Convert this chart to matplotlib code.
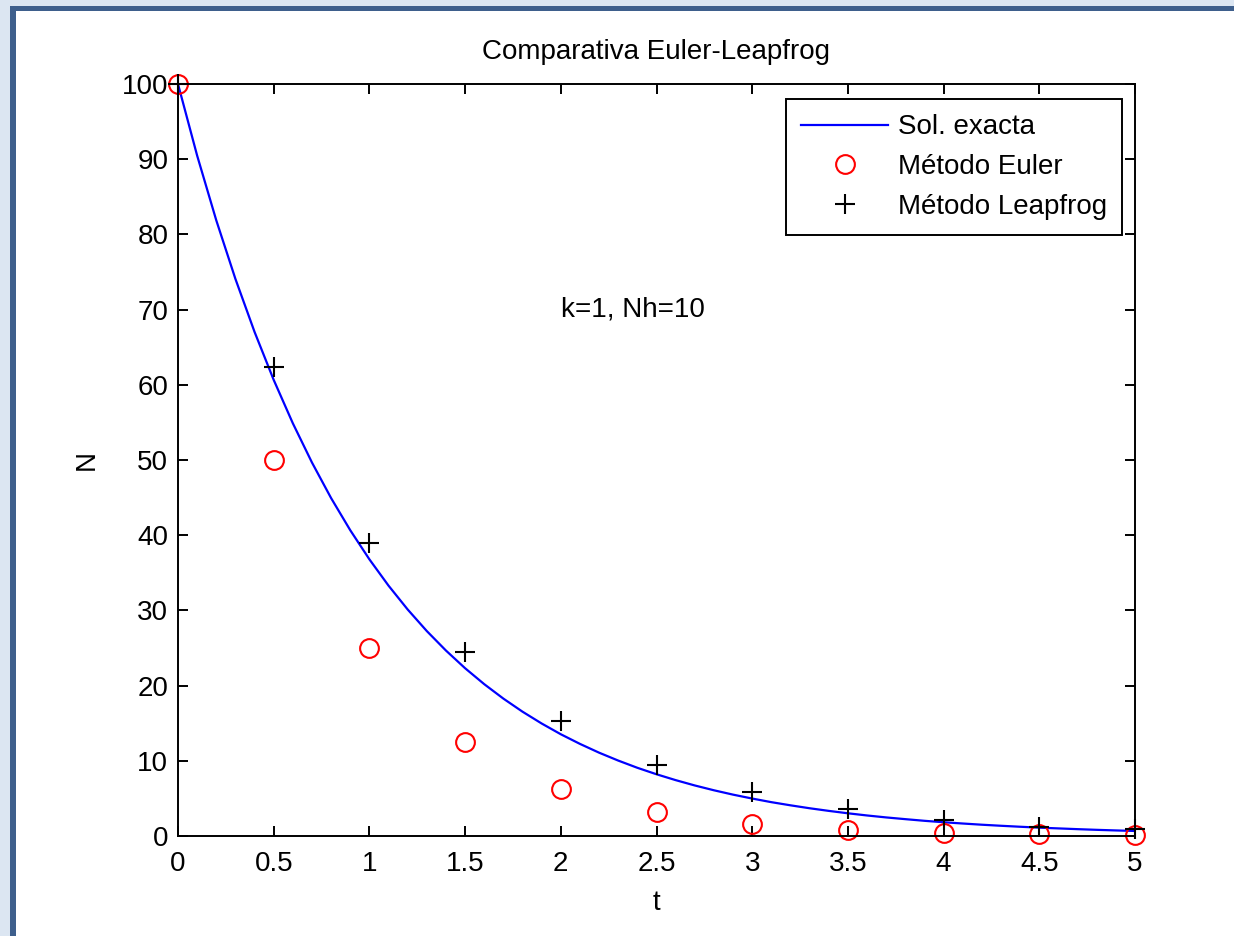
import matplotlib
matplotlib.use("Agg")
import numpy as np
from matplotlib import pyplot as plt
from matplotlib.patches import Rectangle

plt.rcParams['font.family'] = ['Liberation Sans', 'DejaVu Sans']

# exact solution
t_exact = [0.0, 0.1, 0.2, 0.3, 0.4, 0.5, 0.6, 0.7, 0.8, 0.9,
           1.0, 1.1, 1.2, 1.3, 1.4, 1.5, 1.6, 1.7, 1.8, 1.9,
           2.0, 2.1, 2.2, 2.3, 2.4, 2.5, 2.6, 2.7, 2.8, 2.9,
           3.0, 3.1, 3.2, 3.3, 3.4, 3.5, 3.6, 3.7, 3.8, 3.9,
           4.0, 4.1, 4.2, 4.3, 4.4, 4.5, 4.6, 4.7, 4.8, 4.9, 5.0]
N_exact = [100.0, 90.48, 81.87, 74.08, 67.03, 60.65, 54.88, 49.66, 44.93, 40.66,
           36.79, 33.29, 30.12, 27.25, 24.66, 22.31, 20.19, 18.27, 16.53, 14.96,
           13.53, 12.25, 11.08, 10.03, 9.07, 8.21, 7.43, 6.72, 6.08, 5.50,
           4.98, 4.50, 4.08, 3.69, 3.34, 3.02, 2.73, 2.47, 2.24, 2.02,
           1.83, 1.66, 1.50, 1.36, 1.23, 1.11, 1.01, 0.91, 0.82, 0.74, 0.67]

t_steps = [0, 0.5, 1, 1.5, 2, 2.5, 3, 3.5, 4, 4.5, 5]
N_euler = [100, 50, 25, 12.5, 6.25, 3.13, 1.56, 0.78, 0.39, 0.2, 0.1]
N_leapfrog = [100, 62.4, 39.0, 24.5, 15.3, 9.4, 5.9, 3.6, 2.1, 1.2, 0.9]

xticks = [0, 0.5, 1, 1.5, 2, 2.5, 3, 3.5, 4, 4.5, 5]
xticklabels = ["0", "0.5", "1", "1.5", "2", "2.5", "3", "3.5", "4", "4.5", "5"]
yticks = [0, 10, 20, 30, 40, 50, 60, 70, 80, 90, 100]

W, H = 1234, 936
fig = plt.figure(figsize=(W / 100, H / 100), dpi=100)

# window frame around the figure
fig.patches.append(Rectangle((0, 0), 1, 1, transform=fig.transFigure,
                             facecolor='#dce6f2', edgecolor='none', zorder=-3))
fig.patches.append(Rectangle((10 / W, 0), 1, 1 - 6 / H, transform=fig.transFigure,
                             facecolor='#3e5f8c', edgecolor='none', zorder=-2))
fig.patches.append(Rectangle((16 / W, 0), 1, 1 - 11 / H, transform=fig.transFigure,
                             facecolor='white', edgecolor='none', zorder=-1))

ax = fig.add_axes([178 / W, 1 - 836 / H, (1135 - 178) / W, (836 - 84) / H])
ax.set_facecolor('none')

fs = 20
ax.plot(t_exact, N_exact, color=(0, 0, 1), lw=1.6, label='Sol. exacta')
ax.plot(t_steps, N_euler, 'o', color=(1, 0, 0), mfc='none', ms=13.5, mew=1.5,
        label='Método Euler', clip_on=False)
ax.plot(t_steps, N_leapfrog, '+', color='black', ms=15, mew=1.5,
        label='Método Leapfrog', clip_on=False)

ax.set_xlim(0, 5)
ax.set_ylim(0, 100)
ax.set_xticks(xticks)
ax.set_xticklabels(xticklabels)
ax.set_yticks(yticks)
ax.tick_params(direction='in', top=True, right=True, length=7, width=1.4,
               labelsize=fs, colors='black')
ax.tick_params(axis='x', pad=11)
ax.tick_params(axis='y', pad=7)
for s in ax.spines.values():
    s.set_linewidth(1.4)
    s.set_color('black')

ax.set_title('Comparativa Euler-Leapfrog', fontsize=fs, pad=18)
ax.set_xlabel('t', fontsize=fs, labelpad=9)
ax.set_ylabel('N', fontsize=fs, labelpad=16)
ax.text(2, 70, 'k=1, Nh=10', fontsize=fs, ha='left', va='center')

leg = ax.legend(loc='upper right', bbox_to_anchor=(1122 / W, 1 - 99 / H),
                bbox_transform=fig.transFigure, borderaxespad=0,
                fontsize=fs, fancybox=False, framealpha=1, edgecolor='black',
                handlelength=3.15, handletextpad=0.33, labelspacing=0.5,
                borderpad=0.55, numpoints=1)
leg.get_frame().set_linewidth(1.4)

fig.savefig('out.png', dpi=100)
